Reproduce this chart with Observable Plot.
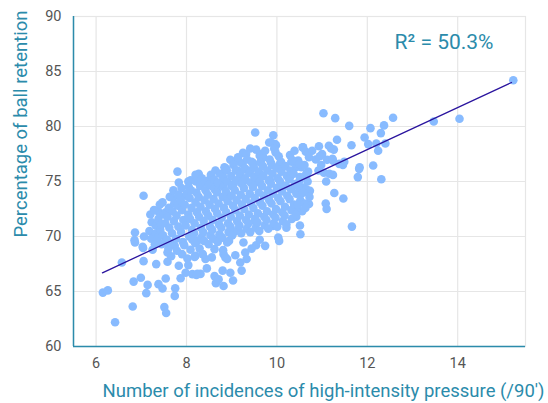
<!DOCTYPE html>
<html>
<head>
<meta charset="utf-8">
<script src="https://cdn.jsdelivr.net/npm/d3@7"></script>
<script src="https://cdn.jsdelivr.net/npm/@observablehq/plot@0.6"></script>
<style>
  html, body { margin: 0; padding: 0; background: #fff; }
</style>
</head>
<body>
<div id="chart"></div>
<script>
const xTitle = "Number of incidences of high-intensity pressure (/90′)";
const yTitle = "Percentage of ball retention";
const r2Label = "R² = 50.3%";
const xTicks = [6, 8, 10, 12, 14];
const yTicks = [60, 65, 70, 75, 80, 85, 90];
const fitX = [6.14, 15.19];
const fitY = [66.7, 84.0];

// [high-intensity pressure incidences, ball retention %]
const observations = [
  [15.23,84.2],[14.04,80.7],[13.47,80.45],
  [11.03,81.2],[11.29,80.76],[11.6,80.06],[12.57,80.8],[12.07,79.85],[12.37,80.1],[12.3,79.4],[11.94,79.0],[12.02,78.4],[12.2,78.45],[12.4,78.45],[12.24,77.8],[11.65,78.3],[11.33,78.8],[11.15,78.25],[10.93,78.2],[11.2,78.0],[10.57,78.1],[10.64,77.7],[11.0,77.5],[11.26,77.9],[10.86,77.0],[11.11,76.97],[11.24,76.9],[11.49,76.8],[11.46,76.5],[11.83,76.3],[12.13,76.45],[11.79,75.4],[12.31,75.2],[10.98,76.5],[10.92,76.0],[10.69,75.9],[11.09,75.0],[11.24,75.6],[11.04,75.8],[10.47,76.9],[10.54,76.3],[10.54,73.9],[10.73,74.15],[11.27,73.95],[11.47,73.45],[11.08,73.0],[11.1,72.5],[10.71,72.95],[10.56,72.3],[10.43,72.6],[10.59,74.45],[10.4,74.76],[10.51,71.0],[10.52,70.2],[11.66,70.9],[10.43,71.8],
  [10.78,77.8],[10.95,77.3],[11.23,77.06],[11.38,76.6],[11.16,75.7],[10.65,75.5],[10.5,75.06],[10.65,74.3],[10.5,74.0],[11.82,76.15],
  [9.52,79.45],[9.92,79.2],[9.87,78.55],[9.98,78.3],[9.41,78.0],[9.32,77.5],[9.62,77.35],[9.97,77.65],[8.97,76.97],[9.17,76.8],[9.47,76.7],[9.65,76.9],[9.87,76.7],[10.32,76.8],[8.86,76.1],[9.13,76.0],[9.41,76.0],[9.63,75.7],[10.08,76.3],[10.42,76.3],[8.27,75.7],[8.49,75.1],[8.75,74.76],[9.0,74.6],[9.26,75.0],[8.09,75.1],[8.32,74.7],[9.52,74.9],[9.85,75.1],[10.1,74.6],[10.29,75.4],[7.8,75.9],[7.83,74.9],[8.04,75.0],[7.05,73.7],[7.7,73.5],[7.98,73.7],[7.38,72.25],[7.54,72.2],[8.2,75.6],[8.88,76.15],
  [9.25,77.6],[9.63,77.5],[9.83,78.55],[9.96,78.4],[9.7,77.2],[9.11,76.9],[9.3,76.1],[9.48,76.6],[10.07,76.6],[10.36,76.9],[10.58,78.1],[10.5,76.6],[10.65,75.7],[8.56,74.6],[9.04,74.76],[9.19,75.5],[9.55,75.06],[8.31,74.76],[8.49,74.9],[8.67,74.15],[8.89,73.85],
  [6.86,70.36],[6.85,69.67],[7.06,70.0],[7.30,70.2],[7.34,69.7],[7.04,68.95],[6.57,67.64],[7.05,67.76],[7.33,67.49],[7.58,67.7],[6.99,66.25],[6.83,65.9],[7.14,65.6],[7.11,64.85],[7.38,65.67],[7.47,65.27],[7.54,66.18],[7.75,65.3],[7.74,64.6],[6.15,64.9],[6.26,65.1],[6.81,63.64],[7.51,63.58],[7.55,63.04],[6.42,62.2],[7.87,66.2],[7.98,66.7],[8.13,66.58],[8.2,68.25],[7.83,67.34],[7.25,68.8],[7.58,68.55],[7.45,69.3],[7.74,69.15],[7.9,68.4],[8.02,68.0],[6.86,69.45],[7.03,69.06],
  [8.24,66.6],[8.31,66.6],[8.45,67.1],[8.62,66.4],[8.65,65.76],[8.82,65.5],[8.71,66.1],[8.8,66.9],[8.97,66.7],[9.03,66.0],[9.22,66.9],[9.19,67.64],[9.33,67.95],[9.3,68.55],[8.9,67.95],[8.82,68.4],[8.42,67.95],[8.86,68.1],[8.81,68.76],[8.62,68.85],[8.18,68.15],[8.22,66.5],[8.9,69.45],[9.26,69.45],[9.54,69.2],[9.74,69.15],[10.03,69.9],[10.05,69.6],[10.21,70.8],[9.52,71.4],[9.92,70.97],[9.04,70.36],[8.24,69.6],
  [8.36,68.4],[8.56,68.1],[9.08,68.3],[9.44,68.9],[9.62,69.7],[8.04,67.4],[7.66,68.2],
  [7.18,70.5],[7.23,71.3],[7.2,72.0],[7.22,69.8],
  [7.32,71.0],[7.28,72.4],[7.33,70.3],[7.3,69.3],
  [7.42,70.6],[7.38,71.6],[7.41,72.9],[7.37,69.9],[7.44,71.1],
  [7.48,70.1],[7.53,71.2],[7.5,72.0],[7.47,73.1],[7.52,69.5],
  [7.62,70.8],[7.58,71.8],[7.61,72.6],[7.57,69.7],[7.63,73.6],[7.6,68.9],
  [7.68,70.3],[7.72,71.4],[7.69,72.3],[7.73,73.0],[7.67,69.4],[7.71,74.2],
  [7.82,70.9],[7.78,71.9],[7.81,72.8],[7.77,69.8],[7.83,73.8],[7.79,68.7],
  [7.88,70.4],[7.93,71.5],[7.9,72.4],[7.87,73.3],[7.92,69.5],[7.89,74.4],
  [7.98,71.0],[8.04,72.0],[7.96,72.9],[8.06,70.0],[8.01,73.9],[7.95,69.2],[8.05,74.5],
  [8.12,70.6],[8.08,71.6],[8.11,72.6],[8.07,73.5],[8.13,69.7],[8.1,74.2],[8.09,68.8],
  [8.18,71.2],[8.23,72.2],[8.2,73.1],[8.17,70.3],[8.22,74.0],[8.19,69.4],[8.21,75.0],
  [8.32,70.8],[8.28,71.8],[8.31,72.7],[8.27,73.6],[8.33,69.9],[8.3,74.6],[8.29,68.9],[8.34,75.3],
  [8.38,71.4],[8.43,72.3],[8.4,73.3],[8.37,70.4],[8.42,74.2],[8.39,69.6],[8.41,75.0],
  [8.52,70.9],[8.48,71.9],[8.51,72.9],[8.47,73.8],[8.53,70.1],[8.5,74.7],[8.49,69.3],[8.54,75.6],
  [8.58,71.5],[8.63,72.5],[8.6,73.4],[8.57,70.6],[8.62,74.3],[8.59,69.8],[8.61,75.2],[8.64,76.0],
  [8.72,71.1],[8.68,72.1],[8.71,73.0],[8.67,74.0],[8.73,70.2],[8.7,74.9],[8.69,69.5],[8.74,75.7],
  [8.78,71.7],[8.83,72.6],[8.8,73.6],[8.77,70.8],[8.82,74.5],[8.79,69.9],[8.81,75.4],[8.84,76.3],
  [8.92,71.2],[8.88,72.2],[8.91,73.2],[8.87,74.1],[8.93,70.4],[8.9,75.0],[8.89,76.0],[8.94,69.6],
  [8.98,71.8],[9.03,72.8],[9.0,73.7],[8.97,70.9],[9.02,74.6],[8.99,75.5],[9.01,70.1],[9.04,76.5],
  [9.12,71.4],[9.08,72.4],[9.11,73.3],[9.07,74.2],[9.13,70.6],[9.1,75.1],[9.09,76.0],[9.14,77.2],
  [9.18,71.9],[9.23,72.9],[9.2,73.8],[9.17,71.0],[9.22,74.8],[9.19,75.7],[9.21,70.3],[9.24,76.6],
  [9.32,71.5],[9.28,72.5],[9.31,73.4],[9.27,74.4],[9.33,70.7],[9.3,75.3],[9.29,76.2],[9.34,77.0],
  [9.38,72.0],[9.43,73.0],[9.4,73.9],[9.37,71.2],[9.42,74.9],[9.39,75.8],[9.41,70.4],[9.44,76.8],
  [9.52,71.6],[9.48,72.6],[9.51,73.5],[9.47,74.5],[9.53,70.8],[9.5,75.4],[9.49,76.3],[9.54,77.9],
  [9.58,72.1],[9.63,73.1],[9.6,74.0],[9.57,71.3],[9.62,75.0],[9.59,75.9],[9.61,70.5],[9.64,76.7],
  [9.72,71.8],[9.68,72.8],[9.71,73.7],[9.67,74.6],[9.73,71.0],[9.7,75.5],[9.69,76.4],[9.74,77.8],
  [9.78,72.3],[9.83,73.3],[9.8,74.2],[9.77,71.5],[9.82,75.1],[9.79,76.0],[9.81,70.7],[9.84,77.0],
  [9.92,72.0],[9.88,73.0],[9.91,73.9],[9.87,74.8],[9.93,71.2],[9.9,75.7],[9.89,76.5],[9.94,78.0],
  [9.98,72.5],[10.03,73.5],[10.0,74.4],[9.97,71.7],[10.02,75.3],[9.99,76.2],[10.01,70.9],[10.04,77.3],
  [10.12,72.2],[10.08,73.2],[10.11,74.1],[10.07,75.0],[10.13,71.4],[10.1,75.9],[10.09,76.8],
  [10.18,72.7],[10.23,73.7],[10.2,74.6],[10.17,71.9],[10.22,75.5],[10.19,76.4],[10.21,71.1],
  [10.32,72.4],[10.28,73.4],[10.31,74.3],[10.27,75.2],[10.33,71.6],[10.3,76.0],[10.29,77.4],
  [10.38,72.9],[10.43,73.9],[10.37,75.7],[10.42,72.0],[10.39,77.8],
  [10.52,73.3],[10.48,74.5],[10.51,75.4],[10.47,72.9],
  [10.62,73.0],[10.58,74.0],[10.61,76.5],[10.63,72.6],
  [10.72,73.6],[10.68,75.0],[10.71,77.2]
];

const teal = "#2b8bab";
const grid = "#e6e6e6";
const pts = observations.map(([x, y]) => ({x, y}));
const fit = fitX.map((x, i) => ({x, y: fitY[i]}));

const chart = Plot.plot({
  width: 548,
  height: 403,
  marginTop: 16,
  marginLeft: 73,
  marginRight: 23,
  marginBottom: 57,
  style: {fontFamily: "Roboto, sans-serif", background: "#fff"},
  x: {domain: [5.5, 15.5]},
  y: {domain: [60, 90]},
  marks: [
    Plot.gridX(xTicks, {stroke: grid, strokeOpacity: 1, strokeWidth: 1.2}),
    Plot.gridY(yTicks, {stroke: grid, strokeOpacity: 1, strokeWidth: 1.2}),
    Plot.frame({stroke: grid, strokeWidth: 1.2}),
    Plot.dot(pts, {x: "x", y: "y", r: 4.3, fill: "#88bbff", stroke: null}),
    Plot.line(fit, {x: "x", y: "y", stroke: "#2a149e", strokeWidth: 1.3}),
    Plot.ruleX([5.5], {stroke: teal, strokeWidth: 1.5}),
    Plot.ruleY([60], {stroke: teal, strokeWidth: 1.5}),
    Plot.axisX(xTicks, {tickSize: 0, tickPadding: 11, fontSize: 14.5, color: "#555", label: null}),
    Plot.axisY(yTicks, {tickSize: 0, tickPadding: 12, fontSize: 14.5, color: "#555", label: null}),
    Plot.text([r2Label], {frameAnchor: "top-right", dx: -32, dy: 26, textAnchor: "end", lineAnchor: "middle", fontSize: 21, fill: teal}),
    Plot.text([xTitle], {frameAnchor: "bottom", dx: 24, dy: 45, lineAnchor: "middle", fontSize: 18.5, fill: teal}),
    Plot.text([yTitle], {frameAnchor: "top-left", dx: -52, dy: -6, rotate: -90, textAnchor: "end", lineAnchor: "middle", fontSize: 18.5, fill: teal})
  ]
});
document.getElementById("chart").appendChild(chart);
</script>
</body>
</html>
